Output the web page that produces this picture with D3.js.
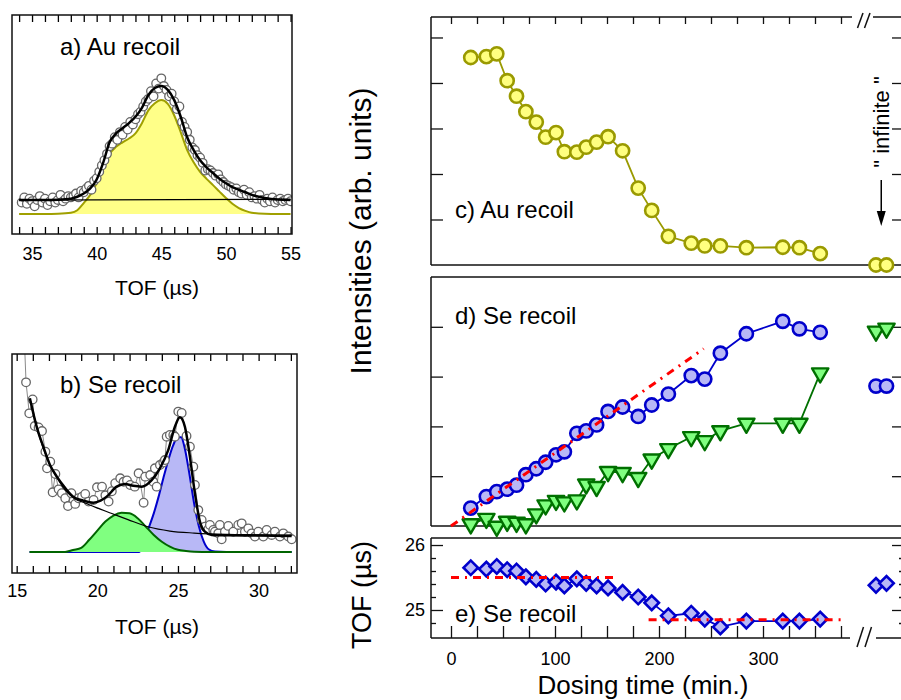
<!DOCTYPE html>
<html>
<head>
<meta charset="utf-8">
<script src="https://cdn.jsdelivr.net/npm/d3@7/dist/d3.min.js"></script>
<style>
  body { margin: 0; background: #fff; }
  text { font-family: "Liberation Sans", Arial, Helvetica, sans-serif; fill: #000; }
</style>
</head>
<body>
<script>
// ---------- panel a: Au recoil TOF spectrum ----------
const auSpectrum = [
  [34.2,9],[34.4,13],[34.6,8],[34.8,12],[35.0,10],[35.2,6],[35.4,11],[35.6,14],[35.8,9],[36.0,12],
  [36.2,7],[36.4,10],[36.6,13],[36.8,9],[37.0,11],[37.2,15],[37.4,10],[37.6,12],[37.8,14],[38.0,13],
  [38.2,14],[38.4,16],[38.6,13],[38.8,18],[39.0,17],[39.2,20],[39.4,22],[39.6,19],[39.8,26],[40.0,28],
  [40.2,33],[40.4,38],[40.6,42],[40.8,47],[41.0,53],[41.2,55],[41.4,60],[41.6,58],[41.8,64],[42.0,62],
  [42.2,68],[42.4,66],[42.6,72],[42.8,70],[43.0,74],[43.2,78],[43.4,80],[43.6,84],[43.8,88],[44.0,90],
  [44.2,96],[44.4,92],[44.6,102],[44.8,98],[45.0,106],[45.2,100],[45.4,97],[45.6,92],[45.8,94],[46.0,88],
  [46.2,82],[46.4,84],[46.6,72],[46.8,68],[47.0,64],[47.2,58],[47.4,52],[47.6,50],[47.8,46],[48.0,44],
  [48.2,40],[48.4,34],[48.6,35],[48.8,34],[49.0,32],[49.2,30],[49.4,31],[49.6,27],[49.8,25],[50.0,23],
  [50.2,22],[50.4,21],[50.6,19],[50.8,20],[51.0,17],[51.2,16],[51.4,19],[51.6,15],[51.8,17],[52.0,13],
  [52.2,14],[52.4,12],[52.6,15],[52.8,11],[53.0,9],[53.2,12],[53.4,10],[53.6,13],[53.8,9],[54.0,11],
  [54.2,12],[54.4,10],[54.6,11],[54.8,12],[55.0,10]
];
const auFitTof   = [34,35,36,37,38,38.5,39,39.5,40,40.5,41,41.5,42,42.5,43,43.5,44,44.5,45,45.5,46,46.5,47,47.5,48,48.5,49,49.5,50,50.5,51,51.5,52,53,54,55];
const auFitTotal = [11,11,11,11.2,12,13.5,16,20,27,40,56,63,67,71,76,83,93,98.5,100,97,89,76,60,50,42,36.5,32,27.5,24,21,19,17,15,12.5,11.3,11];
const auFitPeak  = [0,0,0,0.2,1,3,8.6,15,24,36,47,52.5,56,59,63,71,81,86.5,89,86,77,64,50,40.5,33,27.5,22.6,17.5,12.5,8,4.7,2.5,1,0.2,0,0];
const auBackground = [[34,10.9],[55,11.5]];

// ---------- panel b: Se recoil TOF spectrum ----------
const seSpectrum = [
  [15.42,175],[15.58,125.7],[15.78,102.7],[15.99,113],[16.12,93.3],[16.36,92.3],[16.57,89.6],[16.78,74.3],
  [16.88,62],[17.08,66.9],[17.23,44.2],[17.4,57.8],[17.6,46.4],[17.8,43.5],[18.01,39.8],[18.18,34],
  [18.39,43.5],[18.63,35.6],[18.84,39.8],[19.05,41],[19.25,43],[19.46,37.3],[19.77,38.5],[19.98,47.9],
  [20.29,48.4],[20.5,42],[20.7,37.3],[20.9,45],[21.11,50.9],[21.42,54.6],[21.63,52],[21.84,53],
  [22.04,49.6],[22.32,48.4],[22.56,58.3],[22.87,36.5],[22.97,55.8],[23.28,57],[23.47,52],[23.57,62],
  [23.68,48.4],[23.88,64.4],[24.09,66.2],[24.19,68.1],[24.3,85.4],[24.5,86.7],[24.71,86.7],[24.81,85.4],
  [25.02,104],[25.23,103],[25.53,86],[25.74,78],[25.95,63.2],[26.05,49.6],[26.26,31],[26.47,23.7],
  [26.67,18.8],[26.88,16.8],[26.98,20],[27.19,16.3],[27.29,15],[27.5,13.8],[27.6,20],[27.71,9.4],
  [27.91,15],[28.12,19.3],[28.43,15],[28.74,20],[28.95,21.2],[29.15,15],[29.36,17.5],[29.57,13.8],
  [29.77,11.4],[29.98,15],[30.29,11.4],[30.5,16.3],[30.81,12.6],[31.01,15],[31.32,11.4],[31.53,13.8],
  [31.84,11.4],[32.05,9.4]
];
const seTotalFit = [[15.82,113.8],[16.26,92],[16.65,78],[17.08,64],[17.48,56],[18.0,47.5],[18.5,41],[19.13,38],
  [19.75,36.5],[20.2,38],[20.58,41],[21.2,48.4],[21.71,50.4],[22.23,49],[22.75,48.4],[23.37,53.3],
  [23.88,62],[24.4,75.6],[24.81,92.8],[25.12,99.8],[25.43,92.8],[25.74,70.6],[26.05,43.5],[26.36,22.5],
  [26.67,15],[27.09,12.6],[28,12.3],[30,12.1],[32.05,11.9]];
const seBackgroundFit = [[15.82,113.8],[16.26,92],[16.67,76],[17.08,64],[17.5,55],[18,46],[18.6,39.5],
  [19.3,36],[19.9,33],[20.9,28.5],[21.9,24],[23.2,18.5],[24.5,15.5],[26,14],[28,13],[30,12.7],[32.05,12.4]];
const seLowPeak = [[15.8,0],[18,0],[18.5,1.5],[19,3],[19.5,9],[20,15.8],[20.5,22.5],[21,27],[21.5,29],
  [22,28.6],[22.5,25],[23,18.8],[23.5,12.6],[24,7.6],[24.5,4],[25,1.6],[25.5,0.7],[26,0.2],[27,0],[32.05,0]];
const seHighPeak = [[15.8,0],[22.6,0],[22.9,8],[23.16,17],[23.5,28.6],[23.8,41],[24.1,55],[24.4,68],
  [24.7,79],[25.0,85],[25.2,85],[25.4,78],[25.7,58.5],[26.0,36],[26.3,18.8],[26.6,7.6],[26.9,2],
  [27.3,0.3],[28,0],[32.05,0]];

// ---------- panels c-e: versus dosing time ----------
const doseTime    = [19,34,44,54,63,72,82,91,101,109,121,130,140,151,165,180,193,209,231,244,259,284,319,335,355];
const auIntensity = [4.56,4.58,4.64,4.05,3.71,3.37,3.14,2.81,2.91,2.49,2.48,2.59,2.70,2.82,2.51,1.69,1.20,0.63,0.48,0.42,0.42,0.38,0.39,0.38,0.25];
const seHighInt   = [0.36,0.59,0.69,0.74,0.82,1.03,1.15,1.28,1.43,1.49,1.86,1.91,2.03,2.30,2.39,2.20,2.43,2.65,3.02,2.95,3.47,3.86,4.11,3.96,3.89];
const seLowInt    = [0.04,0.15,-0.01,0.09,0.07,0.04,0.24,0.42,0.51,0.48,0.52,0.84,0.79,1.09,1.07,0.97,1.34,1.55,1.79,1.71,1.91,2.06,2.06,2.06,3.07];
const sePeakTof   = [25.65,25.63,25.67,25.62,25.60,25.51,25.47,25.40,25.43,25.37,25.48,25.41,25.37,25.34,25.27,25.20,25.11,24.91,24.95,24.86,24.74,24.83,24.83,24.83,24.86];

// the two "infinite" dosing points past the axis break
const infSlot = [0, 1];
const auInfinite = [0, 0];
const seHighInfinite = [2.81, 2.81];
const seLowInfinite = [3.91, 3.97];
const tofInfinite = [25.38, 25.41];

// red dash-dot guide lines
const seRiseFit = [[0, 0], [243, 3.56]];
const tofEarly = [[0, 25.5], [159, 25.5]];
const tofLate = [[190, 24.85], [380, 24.85]];

const timeTicks = d3.range(0, 376, 25);
const timeLabels = [0, 100, 200, 300];

// ============================================================
const svg = d3.select("body").append("svg")
  .attr("width", 901)
  .attr("height", 700);

function noDomain(sel) { sel.select(".domain").remove(); }

function spectrumFrame(box, x, ticks, labels, pad, id) {
  const g = svg.append("g");
  g.append("clipPath").attr("id", id)
    .append("rect")
    .attr("x", box.left).attr("y", box.top)
    .attr("width", box.right - box.left).attr("height", box.bottom - box.top);
  g.append("g")
    .attr("transform", `translate(0,${box.top})`)
    .call(d3.axisTop(x).tickValues(ticks).tickSize(-7).tickFormat(""))
    .call(noDomain);
  const ax = g.append("g")
    .attr("transform", `translate(0,${box.bottom})`)
    .call(d3.axisBottom(x).tickValues(ticks).tickSize(-7).tickPadding(pad)
      .tickFormat(d => labels.includes(d) ? d : ""))
    .call(noDomain);
  ax.selectAll("text").style("font-size", "18px").style("font-family", null);
  g.selectAll("line").attr("stroke", "#000").attr("stroke-width", 1.3);
  return g;
}

function frameRect(g, box) {
  g.append("rect")
    .attr("x", box.left).attr("y", box.top)
    .attr("width", box.right - box.left).attr("height", box.bottom - box.top)
    .attr("fill", "none").attr("stroke", "#111").attr("stroke-width", 1.5);
}

// ---------------- panel a ----------------
const boxA = {left: 12, right: 292, top: 15, bottom: 234};
const xA = d3.scaleLinear().domain([33.45, 55.11]).range([boxA.left, boxA.right]);
const yA = d3.scaleLinear().domain([-15.6, 155.5]).range([boxA.bottom, boxA.top]);
const gA = spectrumFrame(boxA, xA, d3.range(34, 56), [35, 40, 45, 50, 55], 13, "clipA");
const plotA = gA.append("g").attr("clip-path", "url(#clipA)");

const peakA = auFitTof.map((t, i) => [t, auFitPeak[i]]);
const totalA = auFitTof.map((t, i) => [t, auFitTotal[i]]);

plotA.append("path")
  .datum(peakA)
  .attr("fill", "#ffff88")
  .attr("d", d3.area().x(d => xA(d[0])).y0(yA(0)).y1(d => yA(d[1])).curve(d3.curveMonotoneX));
plotA.append("path")
  .datum(peakA)
  .attr("fill", "none").attr("stroke", "#a0a000").attr("stroke-width", 2)
  .attr("d", d3.line().x(d => xA(d[0])).y(d => yA(d[1])).curve(d3.curveMonotoneX));
plotA.selectAll("circle.pt")
  .data(auSpectrum)
  .join("circle")
  .attr("class", "pt")
  .attr("cx", d => xA(d[0]))
  .attr("cy", d => yA(d[1]))
  .attr("r", 4.3)
  .attr("fill", "#fff")
  .attr("stroke", "#666")
  .attr("stroke-width", 1.3);
plotA.append("path")
  .datum(auBackground)
  .attr("fill", "none").attr("stroke", "#000").attr("stroke-width", 1.2)
  .attr("d", d3.line().x(d => xA(d[0])).y(d => yA(d[1])));
plotA.append("path")
  .datum(totalA)
  .attr("fill", "none").attr("stroke", "#000").attr("stroke-width", 2.5)
  .attr("d", d3.line().x(d => xA(d[0])).y(d => yA(d[1])).curve(d3.curveMonotoneX));
frameRect(gA, boxA);

gA.append("text").attr("x", 60).attr("y", 55).style("font-size", "24px").text("a) Au recoil");
gA.append("text").attr("x", 157).attr("y", 295).attr("text-anchor", "middle")
  .style("font-size", "21px").text("TOF (\u00b5s)");

// ---------------- panel b ----------------
const boxB = {left: 12, right: 297, top: 354, bottom: 573};
const xB = d3.scaleLinear().domain([14.71, 32.38]).range([boxB.left, boxB.right]);
const yB = d3.scaleLinear().domain([-15.6, 146.7]).range([boxB.bottom, boxB.top]);
const gB = spectrumFrame(boxB, xB, d3.range(15, 33), [15, 20, 25, 30], 11, "clipB");
const plotB = gB.append("g").attr("clip-path", "url(#clipB)");

const lineB = d3.line().x(d => xB(d[0])).y(d => yB(d[1])).curve(d3.curveMonotoneX);
const areaB = d3.area().x(d => xB(d[0])).y0(yB(0)).y1(d => yB(d[1])).curve(d3.curveMonotoneX);

plotB.append("path").datum(seHighPeak).attr("fill", "#b8b8f6").attr("d", areaB);
plotB.append("path").datum(seHighPeak).attr("fill", "none")
  .attr("stroke", "#0000cc").attr("stroke-width", 2).attr("d", lineB);
plotB.append("path").datum(seLowPeak).attr("fill", "#80ff80").attr("d", areaB);
plotB.append("path").datum(seLowPeak).attr("fill", "none")
  .attr("stroke", "#006400").attr("stroke-width", 2).attr("d", lineB);

plotB.append("path")
  .datum(seSpectrum)
  .attr("fill", "none").attr("stroke", "#8a8a8a").attr("stroke-width", 1)
  .attr("d", d3.line().x(d => xB(d[0])).y(d => yB(d[1])));
plotB.selectAll("circle.pt")
  .data(seSpectrum)
  .join("circle")
  .attr("class", "pt")
  .attr("cx", d => xB(d[0]))
  .attr("cy", d => yB(d[1]))
  .attr("r", 4.3)
  .attr("fill", "#fff")
  .attr("stroke", "#666")
  .attr("stroke-width", 1.3);
plotB.append("path").datum(seBackgroundFit).attr("fill", "none")
  .attr("stroke", "#000").attr("stroke-width", 1.2).attr("d", lineB);
plotB.append("path").datum(seTotalFit).attr("fill", "none")
  .attr("stroke", "#000").attr("stroke-width", 2.5).attr("d", lineB);
frameRect(gB, boxB);

gB.append("text").attr("x", 60).attr("y", 393).style("font-size", "24px").text("b) Se recoil");
gB.append("text").attr("x", 157).attr("y", 634).attr("text-anchor", "middle")
  .style("font-size", "21px").text("TOF (\u00b5s)");

// ---------------- panels c, d, e ----------------
const left = 431, right = 904;
const xT = d3.scaleLinear().domain([0, 300]).range([451, 763]);
const infX = d3.scaleLinear().domain([0, 1]).range([876, 886.5]);
const breakL = 852, breakR = 873;

const boxC = {top: 17, bottom: 265};
const boxD = {top: 277, bottom: 526};
const boxE = {top: 538, bottom: 638};
const yC = d3.scaleLinear().domain([0, 5.45]).range([boxC.bottom, boxC.top]);
const yD = d3.scaleLinear().domain([0, 5.0]).range([boxD.bottom, boxD.top]);
const yE = d3.scaleLinear().domain([24.569, 26.108]).range([boxE.bottom, boxE.top]);

const frame = svg.append("g").attr("stroke", "#111").attr("stroke-width", 1.5).attr("fill", "none");
function hline(y, x1, x2) { frame.append("line").attr("x1", x1).attr("x2", x2).attr("y1", y).attr("y2", y); }
function vline(x, y1, y2) { frame.append("line").attr("x1", x).attr("x2", x).attr("y1", y1).attr("y2", y2); }

// panel c frame (top axis broken)
hline(boxC.top, left, breakL); hline(boxC.top, breakR, right);
hline(boxC.bottom, left, right); vline(left, boxC.top, boxC.bottom); vline(right, boxC.top, boxC.bottom);
// panel d frame
hline(boxD.top, left, right); hline(boxD.bottom, left, right);
vline(left, boxD.top, boxD.bottom); vline(right, boxD.top, boxD.bottom);
// panel e frame (bottom axis broken)
hline(boxE.top, left, right); hline(boxE.bottom, left, 850); hline(boxE.bottom, 876, right);
vline(left, boxE.top, boxE.bottom); vline(right, boxE.top, boxE.bottom);

// axis break marks
const brk = svg.append("g").attr("stroke", "#111").attr("stroke-width", 1.5);
[[857.5, 28, 863, 13], [864.5, 28, 870, 13], [857, 647, 863.5, 627], [865, 647, 871.5, 627]]
  .forEach(s => brk.append("line").attr("x1", s[0]).attr("y1", s[1]).attr("x2", s[2]).attr("y2", s[3]));

function tickAxis(axis, tx, ty) {
  const g = svg.append("g").attr("transform", `translate(${tx},${ty})`).call(axis).call(noDomain);
  g.selectAll("line").attr("stroke", "#111").attr("stroke-width", 1.3);
  g.selectAll("text").style("font-family", null).style("font-size", "18px");
  return g;
}

// panel c ticks
tickAxis(d3.axisTop(xT).tickValues(timeTicks).tickSize(-7).tickFormat(""), 0, boxC.top);
tickAxis(d3.axisLeft(yC).tickValues([1, 2, 3, 4, 5]).tickSize(-12).tickFormat(""), left, 0);
tickAxis(d3.axisRight(yC).tickValues([1, 2, 3, 4, 5]).tickSize(-12).tickFormat(""), right, 0);
// panel d ticks
tickAxis(d3.axisLeft(yD).tickValues([1, 2, 3, 4]).tickSize(-12).tickFormat(""), left, 0);
tickAxis(d3.axisRight(yD).tickValues([1, 2, 3, 4]).tickSize(-12).tickFormat(""), right, 0);
// panel e ticks
tickAxis(d3.axisLeft(yE).tickValues([25, 26]).tickSize(-12).tickPadding(6).tickFormat(d3.format("d")), left, 0);
tickAxis(d3.axisLeft(yE).tickValues([24.8, 25.2, 25.4, 25.6, 25.8]).tickSize(-5).tickFormat(""), left, 0);
tickAxis(d3.axisRight(yE).tickValues([25, 26]).tickSize(-12).tickFormat(""), right, 0);
tickAxis(d3.axisRight(yE).tickValues([24.8, 25.2, 25.4, 25.6, 25.8]).tickSize(-5).tickFormat(""), right, 0);
tickAxis(d3.axisBottom(xT).tickValues(timeTicks).tickSize(-12).tickPadding(14)
  .tickFormat(d => timeLabels.includes(d) ? d : ""), 0, boxE.bottom);

// ---- panel c: Au intensity
const auPts = doseTime.map((t, i) => [t, auIntensity[i]]);
svg.append("path").datum(auPts)
  .attr("fill", "none").attr("stroke", "#9a9a00").attr("stroke-width", 1.8)
  .attr("d", d3.line().x(d => xT(d[0])).y(d => yC(d[1])));
const auAll = auPts.map(d => [xT(d[0]), yC(d[1])])
  .concat(infSlot.map((s, i) => [infX(s), yC(auInfinite[i])]));
svg.append("g").selectAll("circle").data(auAll).join("circle")
  .attr("cx", d => d[0]).attr("cy", d => d[1]).attr("r", 6.6)
  .attr("fill", "#ffff80").attr("stroke", "#9a9a00").attr("stroke-width", 2.6);

// ---- panel d: Se intensities
const triPts = doseTime.map((t, i) => [t, seLowInt[i]]);
const cirPts = doseTime.map((t, i) => [t, seHighInt[i]]);
svg.append("path").datum(triPts)
  .attr("fill", "none").attr("stroke", "#007000").attr("stroke-width", 1.8)
  .attr("d", d3.line().x(d => xT(d[0])).y(d => yD(d[1])));
const triAll = triPts.map(d => [xT(d[0]), yD(d[1])])
  .concat(infSlot.map((s, i) => [infX(s), yD(seLowInfinite[i])]));
svg.append("g").selectAll("path").data(triAll).join("path")
  .attr("transform", d => `translate(${d[0]},${d[1]}) rotate(180)`)
  .attr("d", d3.symbol(d3.symbolTriangle, 115))
  .attr("fill", "#80ff80").attr("stroke", "#007000").attr("stroke-width", 2.4)
  .attr("stroke-linejoin", "round");

svg.append("path").datum(cirPts)
  .attr("fill", "none").attr("stroke", "#0000cc").attr("stroke-width", 1.8)
  .attr("d", d3.line().x(d => xT(d[0])).y(d => yD(d[1])));
const cirAll = cirPts.map(d => [xT(d[0]), yD(d[1])])
  .concat(infSlot.map((s, i) => [infX(s), yD(seHighInfinite[i])]));
svg.append("g").selectAll("circle").data(cirAll).join("circle")
  .attr("cx", d => d[0]).attr("cy", d => d[1]).attr("r", 6.6)
  .attr("fill", "#b8b8f6").attr("stroke", "#0000cc").attr("stroke-width", 2.6);

svg.append("path").datum(seRiseFit)
  .attr("fill", "none").attr("stroke", "#ff0000").attr("stroke-width", 3)
  .attr("stroke-dasharray", "8,6,2,6")
  .attr("d", d3.line().x(d => xT(d[0])).y(d => yD(d[1])));

// ---- panel e: Se peak TOF
const tofPts = doseTime.map((t, i) => [t, sePeakTof[i]]);
svg.append("path").datum(tofPts)
  .attr("fill", "none").attr("stroke", "#0000cc").attr("stroke-width", 1.8)
  .attr("d", d3.line().x(d => xT(d[0])).y(d => yE(d[1])));
const tofAll = tofPts.map(d => [xT(d[0]), yE(d[1])])
  .concat(infSlot.map((s, i) => [infX(s), yE(tofInfinite[i])]));
svg.append("g").selectAll("path").data(tofAll).join("path")
  .attr("transform", d => `translate(${d[0]},${d[1]}) rotate(45)`)
  .attr("d", d3.symbol(d3.symbolSquare, 105))
  .attr("fill", "#b8b8f6").attr("stroke", "#0000cc").attr("stroke-width", 2.6);
[tofEarly, tofLate].forEach(seg => {
  svg.append("path").datum(seg)
    .attr("fill", "none").attr("stroke", "#ff0000").attr("stroke-width", 3)
    .attr("stroke-dasharray", "8,6,2,6")
    .attr("d", d3.line().x(d => xT(d[0])).y(d => yE(d[1])));
});

// ---- labels
svg.append("text").attr("x", 455).attr("y", 218).style("font-size", "24px").text("c) Au recoil");
svg.append("text").attr("x", 455).attr("y", 324).style("font-size", "24px").text("d) Se recoil");
svg.append("text").attr("x", 455).attr("y", 622).style("font-size", "24px").text("e) Se recoil");

svg.append("text")
  .attr("transform", "translate(371,231) rotate(-90)")
  .attr("text-anchor", "middle").style("font-size", "30px")
  .text("Intensities (arb. units)");
svg.append("text")
  .attr("transform", "translate(371,595) rotate(-90)")
  .attr("text-anchor", "middle").style("font-size", "27px")
  .text("TOF (\u00b5s)");
svg.append("text")
  .attr("x", 643).attr("y", 694).attr("text-anchor", "middle")
  .style("font-size", "26px").text("Dosing time (min.)");

// "infinite" annotation with arrow
const arrowX = infX(0.5);
svg.append("text")
  .attr("transform", `translate(${arrowX + 8},122) rotate(-90)`)
  .attr("text-anchor", "middle").style("font-size", "22px")
  .text("\" infinite \"");
svg.append("line").attr("x1", arrowX).attr("x2", arrowX).attr("y1", 180).attr("y2", 214)
  .attr("stroke", "#000").attr("stroke-width", 1.5);
svg.append("path")
  .attr("d", `M${arrowX - 4.5},211L${arrowX + 4.5},211L${arrowX},226Z`)
  .attr("fill", "#000");
</script>
</body>
</html>
